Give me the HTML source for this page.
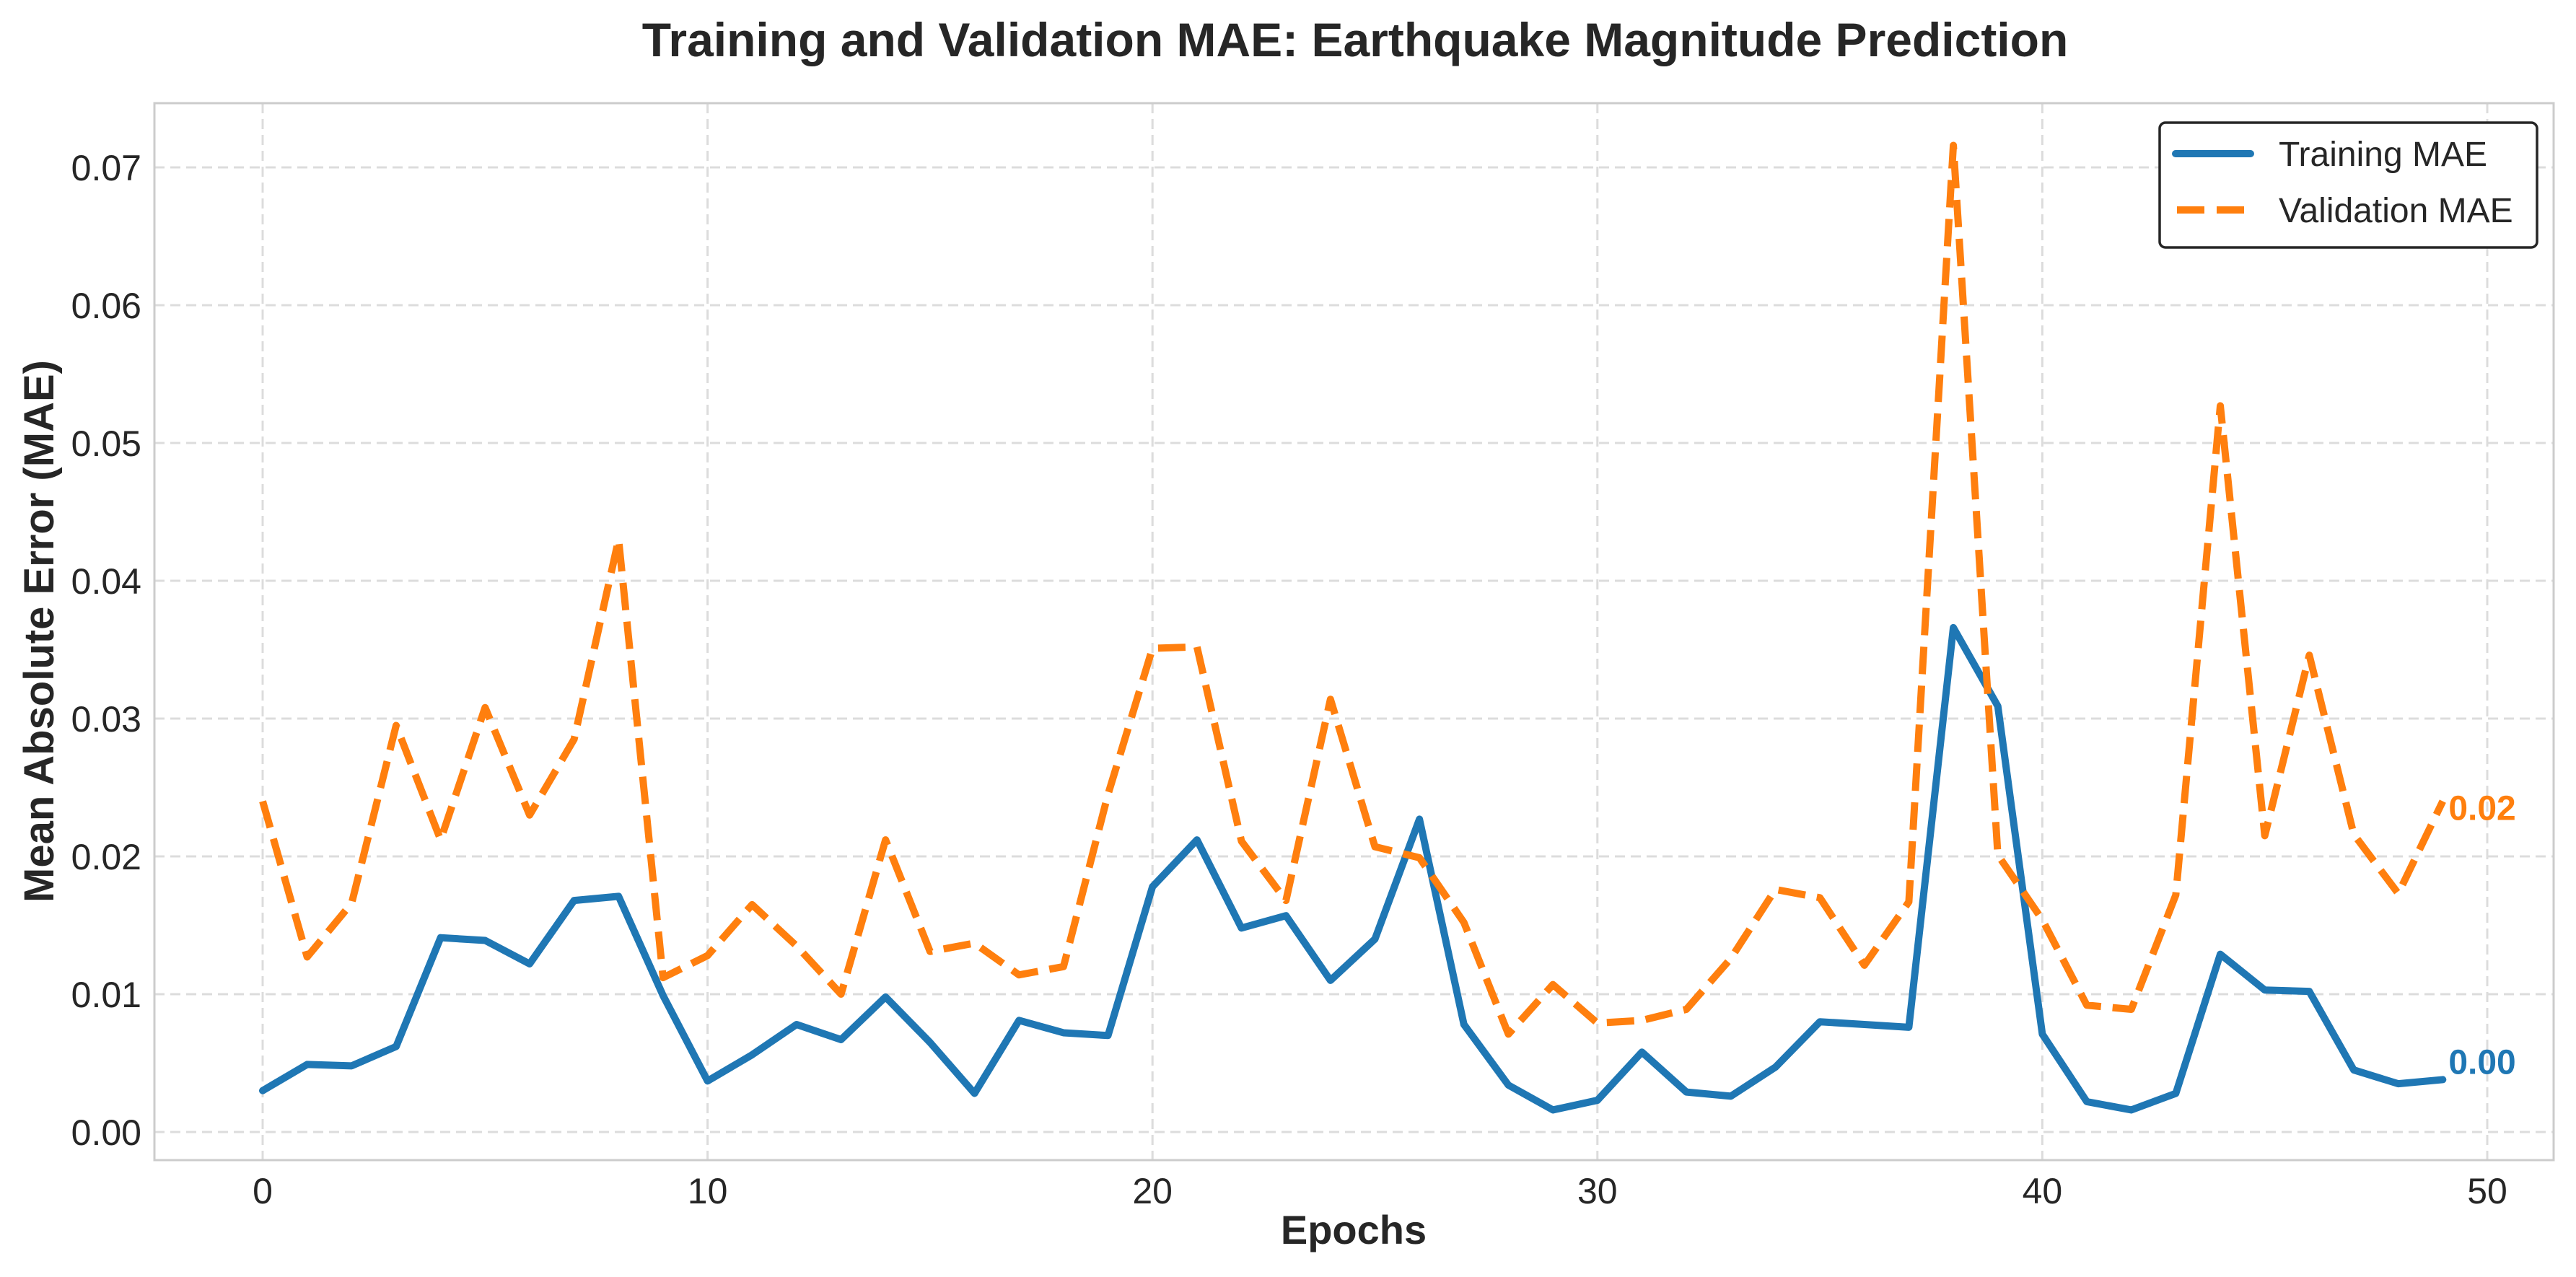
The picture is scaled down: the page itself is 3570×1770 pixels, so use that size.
<!DOCTYPE html>
<html><head><meta charset="utf-8"><style>
html,body{margin:0;padding:0;background:#fff}
svg{display:block;font-family:"Liberation Sans",sans-serif}
</style></head><body>
<svg id="chart" width="3570" height="1770" xmlns="http://www.w3.org/2000/svg">
<rect width="3570" height="1770" fill="#fff"/>
<g id="grid"></g>
<g id="ticks"></g>
<rect x="214" y="143" width="3325" height="1465" fill="none" stroke="#cccccc" stroke-width="3"/>
<g id="series"></g>
<text x="1878" y="78" text-anchor="middle" font-size="66" font-weight="bold" fill="#262626">Training and Validation MAE: Earthquake Magnitude Prediction</text>
<text x="1876" y="1724" text-anchor="middle" font-size="56" font-weight="bold" fill="#262626">Epochs</text>
<text transform="translate(74,875) rotate(-90)" text-anchor="middle" font-size="58" font-weight="bold" fill="#262626">Mean Absolute Error (MAE)</text>
<g>
<rect x="2993" y="170" width="523" height="173" rx="8" fill="#fff" stroke="#262626" stroke-width="3.5"/>
<line x1="3015" y1="213" x2="3119" y2="213" stroke="#1f77b4" stroke-width="10" stroke-linecap="round"/>
<text x="3158" y="230" font-size="48" fill="#262626">Training MAE</text>
<line x1="3017" y1="291" x2="3111" y2="291" stroke="#ff7f0e" stroke-width="10" stroke-dasharray="38,17"/>
<text x="3158" y="308" font-size="48" fill="#262626">Validation MAE</text>
</g>
</svg>
<script>
const epochs = Array.from({length:50},(_,i)=>i);
const trainMAE = [0.0030,0.0049,0.0048,0.0062,0.0141,0.0139,0.0122,0.0168,0.0171,0.0099,0.0037,0.0056,0.0078,0.0067,0.0098,0.0065,0.0028,0.0081,0.0072,0.0070,0.0178,0.0212,0.0148,0.0157,0.0110,0.0140,0.0227,0.0078,0.0034,0.0016,0.0023,0.0058,0.0029,0.0026,0.0047,0.0080,0.0078,0.0076,0.0366,0.0309,0.0071,0.0022,0.0016,0.0028,0.0129,0.0103,0.0102,0.0045,0.0035,0.0038];
const valMAE = [0.0240,0.0127,0.0166,0.0295,0.0212,0.0308,0.0230,0.0285,0.0430,0.0112,0.0128,0.0165,0.0135,0.0100,0.0212,0.0131,0.0137,0.0114,0.0120,0.0245,0.0351,0.0352,0.0211,0.0168,0.0314,0.0207,0.0199,0.0152,0.0071,0.0107,0.0079,0.0081,0.0089,0.0126,0.0176,0.0170,0.0121,0.0167,0.0716,0.0201,0.0154,0.0092,0.0089,0.0172,0.0527,0.0215,0.0346,0.0216,0.0173,0.0240];
const xTicks = [0,10,20,30,40,50];
const yTicks = [0,0.01,0.02,0.03,0.04,0.05,0.06,0.07];
const yTickLabels = ["0.00","0.01","0.02","0.03","0.04","0.05","0.06","0.07"];

const NS="http://www.w3.org/2000/svg";
const xs = v => 364 + v*(3447-364)/50;
const ys = v => 1569 - v*19100;
function mk(tag, attrs, parent){const e=document.createElementNS(NS,tag);for(const k in attrs)e.setAttribute(k,attrs[k]);parent.appendChild(e);return e;}
const grid=document.getElementById('grid'), ticks=document.getElementById('ticks'), series=document.getElementById('series');
xTicks.forEach(t=>{
  const l=mk('line',{x1:xs(t),x2:xs(t),y1:143,y2:1608,stroke:'#dcdcdc','stroke-width':3,'stroke-dasharray':'14,8'},grid);
  
  
  const tx=mk('text',{x:xs(t),y:1668,'text-anchor':'middle','font-size':50,fill:'#262626'},ticks);
  tx.textContent=t;
  
  
});
yTicks.forEach((t,i)=>{
  const l=mk('line',{x1:214,x2:3539,y1:ys(t),y2:ys(t),stroke:'#dcdcdc','stroke-width':3,'stroke-dasharray':'14,8'},grid);
  
  
  const tx=mk('text',{x:196,y:ys(t)+18,'text-anchor':'end','font-size':50,fill:'#262626'},ticks);
  tx.textContent=yTickLabels[i];
  
  
});
function pts(arr){return arr.map((v,i)=>xs(epochs[i])+','+ys(v)).join(' ');}
const tl=mk('polyline',{points:pts(trainMAE),fill:'none',stroke:'#1f77b4','stroke-width':10,'stroke-linejoin':'round','stroke-linecap':'round'},series);


const vl=mk('polyline',{points:pts(valMAE),fill:'none',stroke:'#ff7f0e','stroke-width':10,'stroke-dasharray':'38,16','stroke-linejoin':'round'},series);


const last=epochs.length-1;
const t1=mk('text',{x:xs(epochs[last])+8,y:ys(trainMAE[last])-8,'font-size':48,'font-weight':'bold',fill:'#1f77b4'},series);
t1.textContent=trainMAE[last].toFixed(2);


const t2=mk('text',{x:xs(epochs[last])+8,y:ys(valMAE[last])+26,'font-size':48,'font-weight':'bold',fill:'#ff7f0e'},series);
t2.textContent=valMAE[last].toFixed(2);


</script>
</body></html>
